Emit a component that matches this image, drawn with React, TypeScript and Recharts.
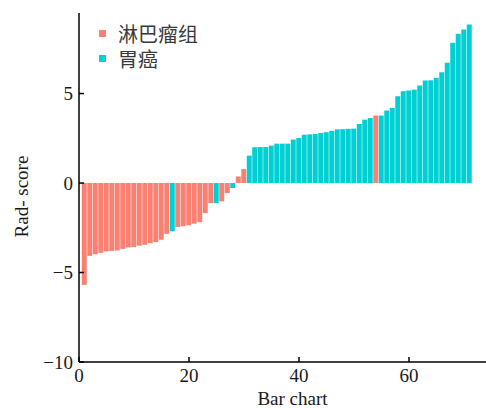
import React from 'react';
import { BarChart, Bar, XAxis, YAxis, Cell, Legend } from 'recharts';

const barIndex: number[] = [
  1, 2, 3, 4, 5, 6, 7, 8, 9, 10, 11, 12, 13, 14, 15, 16, 17, 18, 19, 20,
  21, 22, 23, 24, 25, 26, 27, 28, 29, 30, 31, 32, 33, 34, 35, 36, 37, 38, 39, 40,
  41, 42, 43, 44, 45, 46, 47, 48, 49, 50, 51, 52, 53, 54, 55, 56, 57, 58, 59, 60,
  61, 62, 63, 64, 65, 66, 67, 68, 69, 70, 71,
];

const radScore: number[] = [
  -5.69, -4.07, -3.98, -3.9, -3.82, -3.79, -3.77, -3.68, -3.6, -3.58,
  -3.5, -3.45, -3.36, -3.3, -3.17, -2.84, -2.7, -2.46, -2.41, -2.36,
  -2.27, -2.19, -1.68, -1.12, -1.12, -1.03, -0.56, -0.28, 0.37, 0.78,
  1.53, 2.0, 2.01, 2.01, 2.09, 2.2, 2.2, 2.2, 2.43, 2.52,
  2.7, 2.72, 2.74, 2.8, 2.84, 2.92, 3.0, 3.01, 3.03, 3.04,
  3.3, 3.54, 3.63, 3.77, 3.77, 4.05, 4.2, 4.85, 5.13, 5.17,
  5.22, 5.45, 5.73, 5.74, 5.88, 6.19, 6.72, 7.84, 8.34, 8.58, 8.86,
];

// L = 淋巴瘤组, G = 胃癌
const group: string[] = [
  'L', 'L', 'L', 'L', 'L', 'L', 'L', 'L', 'L', 'L',
  'L', 'L', 'L', 'L', 'L', 'L', 'G', 'L', 'L', 'L',
  'L', 'L', 'L', 'L', 'G', 'L', 'L', 'G', 'L', 'L',
  'G', 'G', 'G', 'G', 'G', 'G', 'G', 'G', 'G', 'G',
  'G', 'G', 'G', 'G', 'G', 'G', 'G', 'G', 'G', 'G',
  'G', 'G', 'G', 'L', 'G', 'G', 'G', 'G', 'G', 'G',
  'G', 'G', 'G', 'G', 'G', 'G', 'G', 'G', 'G', 'G', 'G',
];

const groupNames: Record<string, string> = { L: '淋巴瘤组', G: '胃癌' };
const groupColors: Record<string, string> = { L: '#FA8072', G: '#00D0D4' };
const legendOrder: string[] = ['L', 'G'];

const xTicks: number[] = [0, 20, 40, 60];
const yTicks: number[] = [-10, -5, 0, 5];

const data = barIndex.map((x, i) => ({ x, score: radScore[i], group: group[i] }));

const SERIF = '"Liberation Serif", "Times New Roman", serif';

const LegendContent = () => (
  <div style={{ fontFamily: '"Noto Sans CJK SC", sans-serif', fontSize: 20, color: '#3a3a3a' }}>
    {legendOrder.map((g) => (
      <div key={g} style={{ display: 'flex', alignItems: 'center', height: 25, lineHeight: '25px' }}>
        <span style={{ display: 'inline-block', width: 7, height: 7, background: groupColors[g], marginRight: 12 }} />
        <span style={{ lineHeight: '22px' }}>{groupNames[g]}</span>
      </div>
    ))}
  </div>
);

const YLabel = (props: any) => {
  const vb = props.viewBox || { x: 0, y: 0, width: 79, height: 349 };
  const cx = vb.x + 28;
  const cy = vb.y + vb.height / 2 + 9;
  return (
    <text x={cx} y={cy} transform={`rotate(-90, ${cx}, ${cy})`} textAnchor="middle"
      fontFamily={SERIF} fontSize={19} fill="#1a1a1a">
      Rad- score
    </text>
  );
};

const XLabel = (props: any) => {
  const vb = props.viewBox || { x: 79, y: 362, width: 407, height: 46 };
  const cx = vb.x + vb.width / 2 + 10;
  const cy = vb.y + 43;
  return (
    <text x={cx} y={cy} textAnchor="middle" fontFamily={SERIF} fontSize={19} fill="#1a1a1a">
      Bar chart
    </text>
  );
};

export default function App() {
  return (
    <div style={{ position: 'absolute', left: 0, top: 0 }}>
      <BarChart width={486} height={408} data={data} margin={{ top: 13, right: 0, bottom: 0, left: 0 }}>
        <XAxis
          dataKey="x"
          type="number"
          domain={[0, 74]}
          ticks={xTicks}
          height={46}
          axisLine={{ stroke: '#000', strokeWidth: 1.5 }}
          tickLine={{ stroke: '#000', strokeWidth: 1.5 }}
          tickSize={-5}
          tickMargin={12}
          tick={{ fontFamily: SERIF, fontSize: 19, fill: '#1a1a1a' }}
          label={<XLabel />}
          allowDataOverflow
        />
        <YAxis
          type="number"
          domain={[-10, 9.5]}
          ticks={yTicks}
          width={79}
          axisLine={{ stroke: '#000', strokeWidth: 1.5 }}
          tickLine={{ stroke: '#000', strokeWidth: 1.5 }}
          tickSize={-5}
          tickMargin={11}
          tick={{ fontFamily: SERIF, fontSize: 19, fill: '#1a1a1a' }}
          tickFormatter={(v: number) => (v < 0 ? `\u2212${Math.abs(v)}` : `${v}`)}
          label={<YLabel />}
          allowDataOverflow
        />
        <Legend
          layout="vertical"
          align="center"
          verticalAlign="middle"
          content={<LegendContent />}
          wrapperStyle={{ position: 'absolute', left: 99, top: 21, width: 'auto', height: 'auto' }}
        />
        <Bar dataKey="score" barSize={5} isAnimationActive={false} legendType="none">
          {data.map((d, i) => (
            <Cell key={i} fill={groupColors[d.group]} />
          ))}
        </Bar>
      </BarChart>
    </div>
  );
}
